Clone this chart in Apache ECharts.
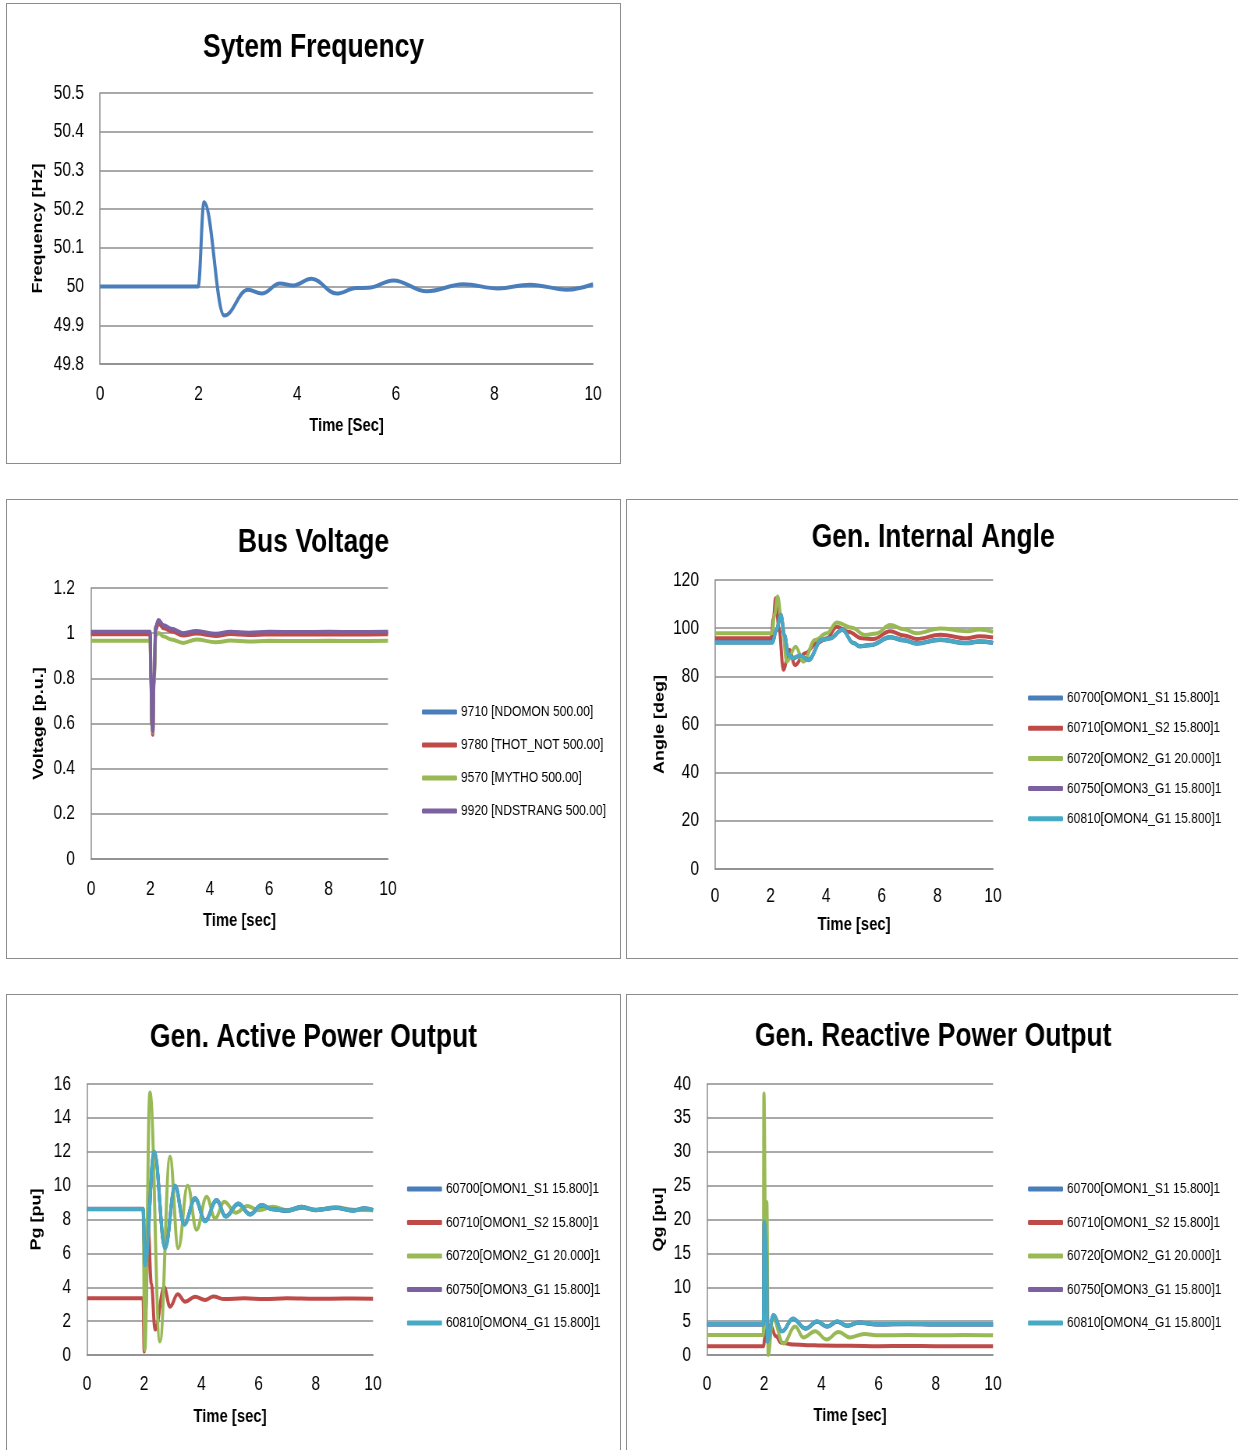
<!DOCTYPE html>
<html>
<head>
<meta charset="utf-8">
<script src="https://cdn.jsdelivr.net/npm/echarts@6/dist/echarts.min.js"></script>
<style>
  body { margin: 0; background: #fff; width: 1238px; height: 1450px; overflow: hidden; position: relative; }
  .box { position: absolute; box-sizing: border-box; border: 1px solid #8c8c8c; background: #fff; overflow: hidden; }
  .inner { position: absolute; left: 0; top: 0; height: 100%; transform-origin: 0 0; }
</style>
</head>
<body>
<div class="box" style="left:6px;top:3px;width:615px;height:461px"><div id="freq" class="inner"></div></div>
<div class="box" style="left:6px;top:499px;width:615px;height:460px"><div id="volt" class="inner"></div></div>
<div class="box" style="left:626px;top:499px;width:614px;height:460px"><div id="angle" class="inner"></div></div>
<div class="box" style="left:6px;top:994px;width:615px;height:470px"><div id="pg" class="inner"></div></div>
<div class="box" style="left:626px;top:994px;width:614px;height:470px"><div id="qg" class="inner"></div></div>

<script>
// ---- System frequency
const freqT = [0, 1.99, 2.11, 2.52, 3.0, 3.28, 3.65, 3.92, 4.29, 4.8, 5.2, 5.44, 5.95, 6.63, 7.37, 8.08, 8.72, 9.47, 10];
const freqV = [50, 50, 50.218, 49.925, 49.992, 49.982, 50.008, 50.003, 50.02, 49.982, 49.996, 49.997, 50.016, 49.988, 50.006, 49.995, 50.005, 49.992, 50.006];

// ---- Bus voltage
const voltNames = ['9710 [NDOMON 500.00]', '9780 [THOT_NOT 500.00]', '9570 [MYTHO 500.00]', '9920 [NDSTRANG 500.00]'];
const voltT = [0, 1.99, 2.02, 2.05, 2.08, 2.12, 2.18, 2.27, 2.45, 2.7, 3.1, 3.55, 4.2, 4.7, 5.3, 6, 7, 8, 9, 10];
const volt9710 = [1.003, 1.003, 0.8, 0.6, 0.563, 0.8, 1.028, 1.055, 1.032, 1.017, 0.997, 1.007, 0.994, 1.003, 0.999, 1.003, 1.002, 1.003, 1.002, 1.003];
const volt9780 = [0.995, 0.995, 0.79, 0.59, 0.55, 0.78, 1.015, 1.043, 1.022, 1.008, 0.99, 0.998, 0.988, 0.996, 0.992, 0.995, 0.994, 0.995, 0.994, 0.995];
const volt9570 = [0.966, 0.966, 0.78, 0.59, 0.56, 0.78, 0.99, 1.001, 0.985, 0.972, 0.957, 0.972, 0.96, 0.967, 0.963, 0.966, 0.965, 0.966, 0.965, 0.966];
const volt9920 = [1.006, 1.006, 0.8, 0.6, 0.565, 0.8, 1.03, 1.058, 1.035, 1.02, 1.0, 1.01, 0.997, 1.006, 1.002, 1.006, 1.005, 1.006, 1.005, 1.006];

// ---- Generator names (angle, Pg, Qg)
const genNames = ['60700[OMON1_S1 15.800]1', '60710[OMON1_S2 15.800]1', '60720[OMON2_G1 20.000]1', '60750[OMON3_G1 15.800]1', '60810[OMON4_G1 15.800]1'];

// ---- Internal angle
const angRedT = [0, 2.02, 2.1, 2.18, 2.3, 2.46, 2.67, 2.88, 3.24, 3.66, 4.02, 4.38, 4.8, 5.28, 5.7, 6.3, 6.8, 7.25, 8.1, 9.05, 9.5, 10];
const angRedV = [95.8, 95.8, 104, 112.4, 100, 82.7, 91, 84.7, 89.6, 93.7, 95.8, 100.6, 98.5, 95.8, 95.5, 98.7, 97, 95.5, 97.3, 95.8, 96.6, 96.1];
const angGreenT = [0, 2.05, 2.15, 2.25, 2.4, 2.58, 2.9, 3.18, 3.6, 4.02, 4.38, 4.92, 5.4, 5.8, 6.3, 6.8, 7.25, 8.1, 9.05, 9.5, 10];
const angGreenV = [97.9, 97.9, 106, 113.1, 103, 86.1, 92.3, 86.1, 95.1, 97.9, 102.4, 100.2, 97.2, 97.8, 101.3, 99.5, 97.9, 99.9, 98.7, 99.4, 98.5];
const angCyanT = [0, 2.07, 2.2, 2.37, 2.5, 2.64, 2.8, 3.06, 3.36, 3.84, 4.14, 4.58, 4.98, 5.2, 5.6, 6.3, 6.8, 7.25, 8.1, 9.05, 9.5, 10];
const angCyanV = [94.1, 94.1, 99, 105.5, 97, 88.9, 87.5, 88.6, 86.8, 95.1, 95.8, 99.3, 93.8, 92.5, 93, 96.2, 95, 93.6, 95.2, 93.8, 94.5, 93.9];
const angBlueV = [94.0, 94.0, 98.8, 105.3, 96.8, 88.8, 87.4, 88.5, 86.7, 95.0, 95.7, 99.2, 93.7, 92.4, 92.9, 96.1, 94.9, 93.5, 95.1, 93.7, 94.4, 93.8];
const angPurpleV = [94.2, 94.2, 99.1, 105.6, 97.1, 89.0, 87.6, 88.7, 86.9, 95.2, 95.9, 99.4, 93.9, 92.6, 93.1, 96.3, 95.1, 93.7, 95.3, 93.9, 94.6, 94.0];

// ---- Active power
const pgRedT = [0, 1.96, 2.0, 2.05, 2.14, 2.25, 2.38, 2.7, 2.9, 3.17, 3.43, 3.78, 4.13, 4.42, 4.8, 5.5, 6.2, 7, 8, 9, 10];
const pgRedV = [3.35, 3.35, 0.2, 2.6, 7.4, 4.2, 1.5, 4.0, 2.85, 3.58, 3.15, 3.44, 3.25, 3.45, 3.3, 3.35, 3.3, 3.35, 3.32, 3.33, 3.32];
const pgGreenT = [0, 1.96, 2.02, 2.2, 2.55, 2.9, 3.19, 3.52, 3.83, 4.18, 4.48, 4.8, 5.2, 5.6, 6.0, 6.5, 7.0, 7.5, 8.0, 8.7, 9.3, 10];
const pgGreenV = [8.62, 8.62, 0.3, 15.5, 0.8, 11.7, 6.3, 10.0, 7.4, 9.35, 8.07, 9.05, 8.4, 8.8, 8.55, 8.75, 8.55, 8.72, 8.55, 8.72, 8.58, 8.55];
const pgCyanT = [0, 1.96, 2.03, 2.35, 2.73, 3.08, 3.4, 3.78, 4.13, 4.53, 4.85, 5.29, 5.7, 6.1, 6.5, 7.0, 7.5, 8.0, 8.7, 9.3, 9.7, 10];
const pgCyanV = [8.62, 8.62, 5.3, 12.0, 6.3, 10.0, 7.7, 9.25, 7.9, 9.15, 8.17, 8.95, 8.3, 8.85, 8.6, 8.52, 8.75, 8.56, 8.7, 8.52, 8.66, 8.56];
const pgBlueV = [8.6, 8.6, 5.3, 11.9, 6.3, 9.9, 7.7, 9.2, 7.9, 9.1, 8.17, 8.9, 8.3, 8.8, 8.6, 8.5, 8.7, 8.55, 8.68, 8.52, 8.64, 8.55];
const pgPurpleV = [8.63, 8.63, 5.35, 12.0, 6.35, 10.0, 7.75, 9.25, 7.95, 9.15, 8.2, 8.95, 8.32, 8.85, 8.6, 8.53, 8.75, 8.57, 8.7, 8.53, 8.66, 8.57];

// ---- Reactive power
const qgRedT = [0, 1.98, 2.02, 2.12, 2.23, 2.4, 2.6, 3.0, 3.5, 4.0, 5, 6, 7, 8, 9, 10];
const qgRedV = [1.3, 1.3, 2.6, 4.0, 4.3, 2.8, 1.8, 1.55, 1.45, 1.4, 1.35, 1.3, 1.32, 1.3, 1.3, 1.3];
const qgGreenT = [0, 1.97, 1.99, 2.05, 2.09, 2.14, 2.3, 2.67, 3.08, 3.37, 3.78, 4.18, 4.6, 5.0, 5.5, 6, 7, 8, 9, 10];
const qgGreenV = [2.95, 2.95, 38.6, 15, 22.6, 0, 5.5, 1.7, 4.2, 2.6, 3.5, 2.3, 3.4, 2.6, 3.1, 2.9, 2.95, 2.9, 2.95, 2.9];
const qgCyanT = [0, 1.97, 2.0, 2.08, 2.11, 2.32, 2.63, 3.0, 3.45, 3.85, 4.2, 4.55, 4.9, 5.3, 6, 7, 8, 9, 10];
const qgCyanV = [4.55, 4.55, 19.7, 14.8, 2.0, 5.9, 3.5, 5.4, 3.9, 5.0, 4.2, 5.0, 4.3, 4.8, 4.55, 4.6, 4.55, 4.55, 4.55];
const qgBlueV = [4.5, 4.5, 19.5, 14.6, 2.0, 5.8, 3.5, 5.3, 3.9, 4.9, 4.2, 4.9, 4.3, 4.75, 4.5, 4.55, 4.5, 4.5, 4.5];
const qgPurpleV = [4.52, 4.52, 19.6, 14.7, 2.0, 5.85, 3.5, 5.35, 3.9, 4.95, 4.2, 4.95, 4.3, 4.78, 4.52, 4.57, 4.52, 4.52, 4.52];

const xTicks = [0, 2, 4, 6, 8, 10];

const BLUE = '#4a7ebb', RED = '#be4b48', GREEN = '#98b954', PURPLE = '#7d60a0', CYAN = '#46aac5';
const FONT = '"Liberation Sans", Arial, sans-serif';
const GRID_COLOR = '#8c8c8c';
// the original picture is squeezed horizontally; draw wider and squeeze with CSS
const S = 0.78;
const sx = v => v / S;

function pairs(t, v) {
  return t.map((x, i) => [x, v[i]]);
}

function drawChart(id, cfg) {
  const el = document.getElementById(id);
  const boxW = el.parentNode.clientWidth;
  el.style.width = sx(boxW) + 'px';
  el.style.transform = 'scaleX(' + S + ')';
  const chart = echarts.init(el, null, { renderer: 'canvas' });
  const g = cfg.grid;
  const option = {
    animation: false,
    title: {
      text: cfg.title,
      left: 'center',
      top: cfg.titleTop,
      textStyle: { fontFamily: FONT, fontWeight: 'bold', fontSize: 34, color: '#000' }
    },
    grid: { left: sx(g.left), top: g.top, width: sx(g.width), height: g.height, containLabel: false, outerBoundsMode: 'none' },
    xAxis: {
      type: 'value',
      min: 0, max: 10, interval: 2,
      name: cfg.xName,
      nameLocation: 'middle',
      nameGap: cfg.xNameGap,
      nameMoveOverlap: false,
      nameTextStyle: { fontFamily: FONT, fontWeight: 'bold', fontSize: 19, color: '#000' },
      axisLine: { show: true, onZero: false, lineStyle: { color: GRID_COLOR, width: 1.5 } },
      axisTick: { show: false },
      splitLine: { show: false },
      axisLabel: {
        margin: cfg.xLabelMargin,
        fontFamily: FONT, fontSize: 20, color: '#000',
        formatter: v => xTicks.includes(v) ? String(v) : ''
      }
    },
    yAxis: {
      type: 'value',
      min: cfg.yMin, max: cfg.yMax, interval: cfg.yInterval,
      name: cfg.yName,
      nameLocation: 'middle',
      nameRotate: 90,
      nameGap: sx(cfg.yNameGap),
      nameMoveOverlap: false,
      nameTextStyle: { fontFamily: FONT, fontWeight: 'bold', fontSize: 18, color: '#000' },
      axisLine: { show: true, lineStyle: { color: GRID_COLOR, width: 1.5 } },
      axisTick: { show: false },
      splitLine: { show: true, lineStyle: { color: GRID_COLOR, width: 1.5 } },
      axisLabel: {
        margin: sx(16),
        fontFamily: FONT, fontSize: 20, color: '#000',
        formatter: cfg.yFormat || (v => String(v))
      }
    },
    series: cfg.series.map(s => ({
      name: s.name,
      type: 'line',
      data: pairs(s.t, s.v),
      showSymbol: false,
      symbol: 'none',
      smooth: 0.4,
      smoothMonotone: 'x',
      clip: true,
      lineStyle: { color: s.color, width: 4 },
      itemStyle: { color: s.color }
    }))
  };
  if (cfg.legend) {
    option.legend = {
      orient: 'vertical',
      left: sx(cfg.legend.left),
      top: cfg.legend.top,
      itemGap: cfg.legend.gap,
      itemWidth: sx(35),
      itemHeight: 5,
      icon: 'roundRect',
      padding: 0,
      textStyle: { fontFamily: FONT, fontSize: 15.5, lineHeight: 16, color: '#000' },
      data: cfg.series.map(s => s.name)
    };
  }
  chart.setOption(option);
}

// System frequency
drawChart('freq', {
  title: 'Sytem Frequency', titleTop: 22,
  grid: { left: 93, top: 89, width: 493, height: 271 },
  yMin: 49.8, yMax: 50.5, yInterval: 0.1,
  yFormat: v => String(Math.round(v * 10) / 10),
  yName: 'Frequency [Hz]', yNameGap: 55,
  xName: 'Time [Sec]', xNameGap: 52.5, xLabelMargin: 20,
  series: [{ name: 'Frequency', color: BLUE, t: freqT, v: freqV }]
});

// Bus voltage
drawChart('volt', {
  title: 'Bus Voltage', titleTop: 21,
  grid: { left: 84, top: 88, width: 297, height: 271 },
  yMin: 0, yMax: 1.2, yInterval: 0.2,
  yFormat: v => String(Math.round(v * 10) / 10),
  yName: 'Voltage [p.u.]', yNameGap: 45,
  xName: 'Time [sec]', xNameGap: 52.5, xLabelMargin: 20,
  legend: { left: 415, top: 204, gap: 17 },
  series: [
    { name: voltNames[0], color: BLUE, t: voltT, v: volt9710 },
    { name: voltNames[1], color: RED, t: voltT, v: volt9780 },
    { name: voltNames[2], color: GREEN, t: voltT, v: volt9570 },
    { name: voltNames[3], color: PURPLE, t: voltT, v: volt9920 }
  ]
});

// Generator internal angle
drawChart('angle', {
  title: 'Gen. Internal Angle', titleTop: 16,
  grid: { left: 88, top: 80, width: 278, height: 289 },
  yMin: 0, yMax: 120, yInterval: 20,
  yName: 'Angle [deg]', yNameGap: 48,
  xName: 'Time [sec]', xNameGap: 46.5, xLabelMargin: 17,
  legend: { left: 401, top: 190, gap: 14.2 },
  series: [
    { name: genNames[0], color: BLUE, t: angCyanT, v: angBlueV },
    { name: genNames[1], color: RED, t: angRedT, v: angRedV },
    { name: genNames[2], color: GREEN, t: angGreenT, v: angGreenV },
    { name: genNames[3], color: PURPLE, t: angCyanT, v: angPurpleV },
    { name: genNames[4], color: CYAN, t: angCyanT, v: angCyanV }
  ]
});

// Generator active power
drawChart('pg', {
  title: 'Gen. Active Power Output', titleTop: 21,
  grid: { left: 80, top: 89, width: 286, height: 271 },
  yMin: 0, yMax: 16, yInterval: 2,
  yName: 'Pg [pu]', yNameGap: 43,
  xName: 'Time [sec]', xNameGap: 52.5, xLabelMargin: 19,
  legend: { left: 400, top: 186, gap: 17.5 },
  series: [
    { name: genNames[0], color: BLUE, t: pgCyanT, v: pgBlueV },
    { name: genNames[1], color: RED, t: pgRedT, v: pgRedV },
    { name: genNames[2], color: GREEN, t: pgGreenT, v: pgGreenV },
    { name: genNames[3], color: PURPLE, t: pgCyanT, v: pgPurpleV },
    { name: genNames[4], color: CYAN, t: pgCyanT, v: pgCyanV }
  ]
});

// Generator reactive power
drawChart('qg', {
  title: 'Gen. Reactive Power Output', titleTop: 20,
  grid: { left: 80, top: 89, width: 286, height: 271 },
  yMin: 0, yMax: 40, yInterval: 5,
  yName: 'Qg [pu]', yNameGap: 41,
  xName: 'Time [sec]', xNameGap: 51.5, xLabelMargin: 19,
  legend: { left: 401, top: 186, gap: 17.5 },
  series: [
    { name: genNames[0], color: BLUE, t: qgCyanT, v: qgBlueV },
    { name: genNames[1], color: RED, t: qgRedT, v: qgRedV },
    { name: genNames[2], color: GREEN, t: qgGreenT, v: qgGreenV },
    { name: genNames[3], color: PURPLE, t: qgCyanT, v: qgPurpleV },
    { name: genNames[4], color: CYAN, t: qgCyanT, v: qgCyanV }
  ]
});
</script>
</body>
</html>
